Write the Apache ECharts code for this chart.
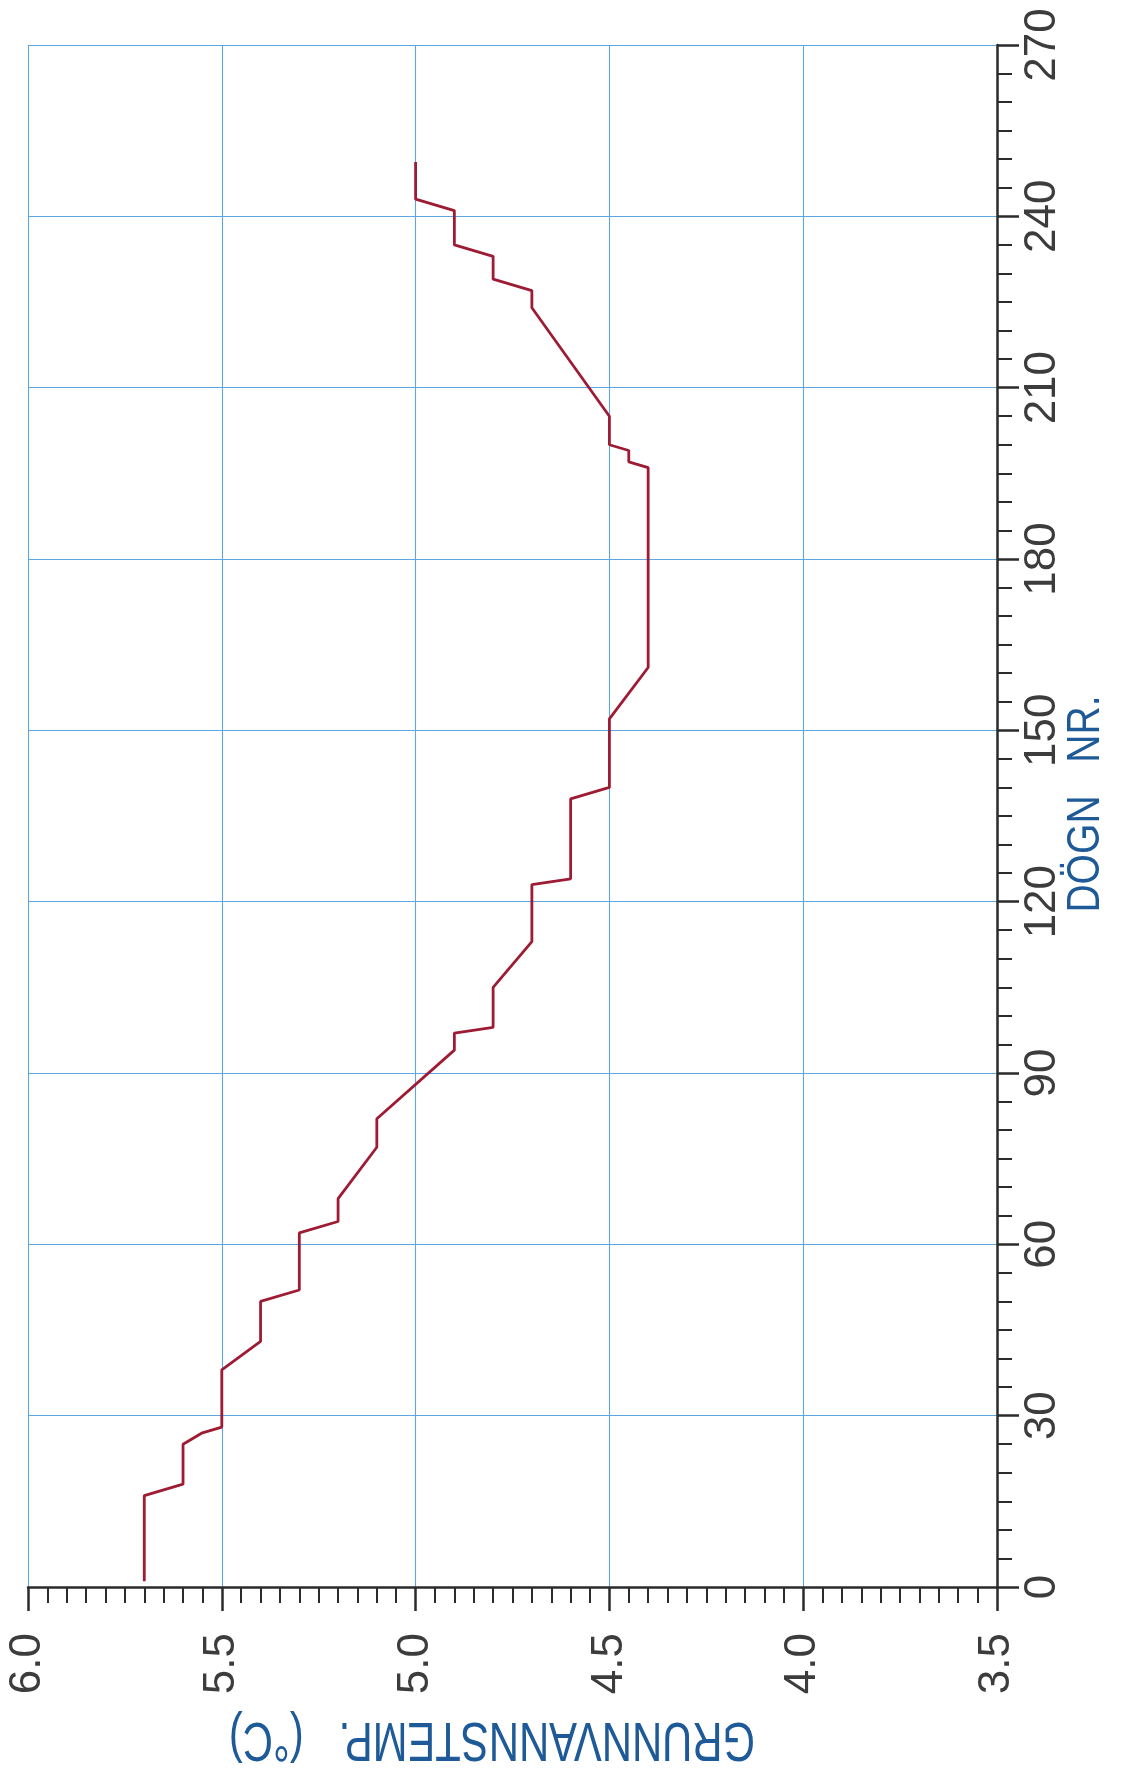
<!DOCTYPE html>
<html>
<head>
<meta charset="utf-8">
<script src="https://cdn.jsdelivr.net/npm/echarts@6/dist/echarts.min.js"></script>
<style>
  html, body { margin: 0; padding: 0; background: #ffffff; }
  #chart { width: 1122px; height: 1769px; }
</style>
</head>
<body>
<div id="chart"></div>
<script>
// Groundwater temperature (°C) against day number: vertices of the recorded trace
const dayNumbers = [1, 16, 18, 25, 27, 28, 38, 43, 50, 52, 62, 64, 68, 77, 82, 94, 97, 98, 105, 113,
                    123, 124, 138, 140, 152, 161, 196, 197, 199, 200, 205, 224, 227, 229, 233, 235, 241, 243, 249.5];
const temperatures = [5.7, 5.7, 5.6, 5.6, 5.55, 5.5, 5.5, 5.4, 5.4, 5.3, 5.3, 5.2, 5.2, 5.1, 5.1, 4.9, 4.9, 4.8, 4.8, 4.7,
                      4.7, 4.6, 4.6, 4.5, 4.5, 4.4, 4.4, 4.45, 4.45, 4.5, 4.5, 4.7, 4.7, 4.8, 4.8, 4.9, 4.9, 5.0, 5.0];

// Axis tick values
const dayTicks = [0, 30, 60, 90, 120, 150, 180, 210, 240, 270];
const tempTicks = [3.5, 4.0, 4.5, 5.0, 5.5, 6.0];

// Axis titles
const dayTitle = 'DÖGN   NR.';
const tempTitle = 'GRUNNVANNSTEMP.   (°C)';

const inkColor = '#2b2b2b';
const labelColor = '#3c3c3c';
const gridColor = '#5ea5e3';
const titleColor = '#1d5a97';
const traceColor = '#9e1b34';
const fontFamily = '"Liberation Sans", Arial, sans-serif';

const chart = echarts.init(document.getElementById('chart'), null, { renderer: 'canvas' });

chart.setOption({
  backgroundColor: '#ffffff',
  animation: false,
  grid: { left: 28, right: 125, top: 45, bottom: 182, containLabel: false },
  // Temperature runs along the bottom, high values on the left
  xAxis: {
    type: 'value',
    position: 'bottom',
    inverse: true,
    min: tempTicks[0],
    max: tempTicks[tempTicks.length - 1],
    interval: tempTicks[1] - tempTicks[0],
    axisLine: { show: true, onZero: false, lineStyle: { color: inkColor, width: 2.5 } },
    axisTick: { show: true, inside: false, length: 24, lineStyle: { color: inkColor, width: 2.5 } },
    minorTick: { show: true, splitNumber: 10, length: 16, lineStyle: { color: inkColor, width: 2 } },
    axisLabel: {
      show: true, rotate: 90, margin: 46, fontSize: 44, color: labelColor, fontFamily: fontFamily,
      formatter: v => v.toFixed(1)
    },
    splitLine: { show: true, lineStyle: { color: gridColor, width: 1.1 } },
    minorSplitLine: { show: false }
  },
  // Day number runs up the right-hand side
  yAxis: {
    type: 'value',
    position: 'right',
    min: dayTicks[0],
    max: dayTicks[dayTicks.length - 1],
    interval: dayTicks[1] - dayTicks[0],
    axisLine: { show: true, onZero: false, lineStyle: { color: inkColor, width: 2.5 } },
    axisTick: { show: true, inside: false, length: 22, lineStyle: { color: inkColor, width: 2.5 } },
    minorTick: { show: true, splitNumber: 6, length: 15, lineStyle: { color: inkColor, width: 2 } },
    axisLabel: { show: true, rotate: 90, margin: 24, fontSize: 44, color: labelColor, fontFamily: fontFamily },
    splitLine: { show: true, lineStyle: { color: gridColor, width: 1.1 } },
    minorSplitLine: { show: false }
  },
  series: [{
    type: 'line',
    data: dayNumbers.map((d, i) => [temperatures[i], d]),
    showSymbol: false,
    symbol: 'none',
    lineStyle: { color: traceColor, width: 2.8 },
    z: 5
  }],
  graphic: [
    {
      type: 'text',
      x: 1086, y: 804,
      rotation: Math.PI / 2,
      scaleX: 0.85,
      style: {
        text: dayTitle, fill: titleColor, font: '46px ' + fontFamily,
        align: 'center', verticalAlign: 'middle'
      }
    },
    {
      type: 'text',
      x: 492, y: 1738,
      rotation: Math.PI,
      scaleX: 0.76,
      style: {
        text: tempTitle, fill: titleColor, font: '55px ' + fontFamily,
        align: 'center', verticalAlign: 'middle'
      }
    }
  ]
});
</script>
</body>
</html>
